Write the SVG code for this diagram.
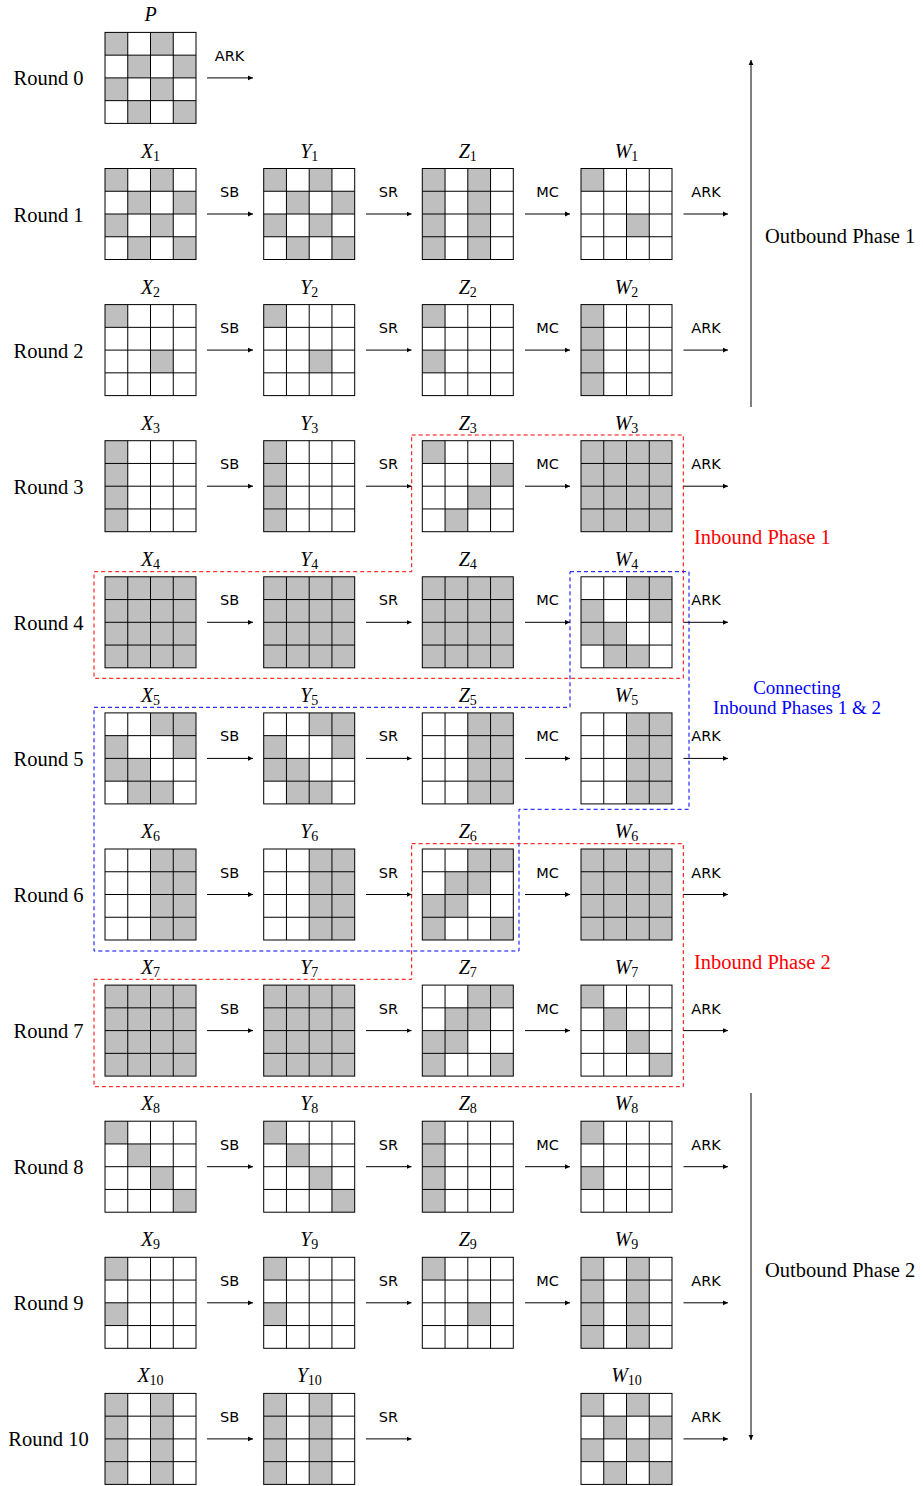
<svg xmlns="http://www.w3.org/2000/svg" xmlns:xlink="http://www.w3.org/1999/xlink" width="923" height="1486" viewBox="0 0 923 1486">
<style>
.bg{fill:#fff}
.sh{fill:#bfbfbf}
.gl{fill:none;stroke:#000;stroke-width:1}
.lbl{font-family:"Liberation Serif",serif;font-style:italic;font-size:20px;text-anchor:middle;fill:#000}
.sub{font-size:14px;font-style:normal}
.rnd{font-family:"Liberation Serif",serif;font-size:20.5px;text-anchor:middle;fill:#000}
.op{font-family:"DejaVu Sans",sans-serif;font-size:14.5px;text-anchor:middle;fill:#000}
.ar{stroke:#000;stroke-width:1;fill:none;marker-end:url(#ah)}
.side{font-family:"Liberation Serif",serif;font-size:20.5px;fill:#000}
.conn{font-family:"Liberation Serif",serif;font-size:19px;fill:#00f;text-anchor:middle}
.red{fill:#f00}
.dr{fill:none;stroke:#f00;stroke-width:1;stroke-dasharray:4 3}
.db{fill:none;stroke:#00f;stroke-width:1;stroke-dasharray:4 3}
</style>
<defs>
<marker id="ah" markerWidth="6" markerHeight="6" refX="5" refY="3" orient="auto" markerUnits="userSpaceOnUse"><path d="M0,0.6 L5,3 L0,5.4 z" fill="#000"/></marker>
<g id="grid" class="gl"><rect width="91" height="91"/><path d="M22.75 0v91M45.5 0v91M68.25 0v91M0 22.75h91M0 45.5h91M0 68.25h91"/></g>
<path id="s_checkA" class="sh" d="M0 0h22.75v22.75h-22.75zM45.5 0h22.75v22.75h-22.75zM22.75 22.75h22.75v22.75h-22.75zM68.25 22.75h22.75v22.75h-22.75zM0 45.5h22.75v22.75h-22.75zM45.5 45.5h22.75v22.75h-22.75zM22.75 68.25h22.75v22.75h-22.75zM68.25 68.25h22.75v22.75h-22.75z"/>
<path id="s_col02" class="sh" d="M0 0h22.75v91h-22.75zM45.5 0h22.75v91h-22.75z"/>
<path id="s_a" class="sh" d="M0 0h22.75v22.75h-22.75zM45.5 45.5h22.75v22.75h-22.75z"/>
<path id="s_b" class="sh" d="M0 0h22.75v22.75h-22.75zM0 45.5h22.75v22.75h-22.75z"/>
<path id="s_col0" class="sh" d="M0 0h22.75v91h-22.75z"/>
<path id="s_z3" class="sh" d="M0 0h22.75v22.75h-22.75zM68.25 22.75h22.75v22.75h-22.75zM45.5 45.5h22.75v22.75h-22.75zM22.75 68.25h22.75v22.75h-22.75z"/>
<path id="s_all" class="sh" d="M0 0h91v91h-91z"/>
<path id="s_w4" class="sh" d="M45.5 0h45.5v22.75h-45.5zM0 22.75h22.75v22.75h-22.75zM68.25 22.75h22.75v22.75h-22.75zM0 45.5h45.5v22.75h-45.5zM22.75 68.25h45.5v22.75h-45.5z"/>
<path id="s_col23" class="sh" d="M45.5 0h45.5v91h-45.5z"/>
<path id="s_z6" class="sh" d="M45.5 0h45.5v22.75h-45.5zM22.75 22.75h45.5v22.75h-45.5zM0 45.5h45.5v22.75h-45.5zM0 68.25h22.75v22.75h-22.75zM68.25 68.25h22.75v22.75h-22.75z"/>
<path id="s_diag" class="sh" d="M0 0h22.75v22.75h-22.75zM22.75 22.75h22.75v22.75h-22.75zM45.5 45.5h22.75v22.75h-22.75zM68.25 68.25h22.75v22.75h-22.75z"/>
</defs>
<rect width="923" height="1486" fill="#fff"/>

<g id="round-labels">
<text class="rnd" x="48.5" y="85.4">Round 0</text>
<text class="rnd" x="48.5" y="221.5">Round 1</text>
<text class="rnd" x="48.5" y="357.6">Round 2</text>
<text class="rnd" x="48.5" y="493.7">Round 3</text>
<text class="rnd" x="48.5" y="629.8">Round 4</text>
<text class="rnd" x="48.5" y="765.9">Round 5</text>
<text class="rnd" x="48.5" y="902">Round 6</text>
<text class="rnd" x="48.5" y="1038.1">Round 7</text>
<text class="rnd" x="48.5" y="1174.2">Round 8</text>
<text class="rnd" x="48.5" y="1310.3">Round 9</text>
<text class="rnd" x="48.5" y="1446.4">Round 10</text>
</g>

<g id="P" transform="translate(105,32.4)"><rect class="bg" width="91" height="91"/><use href="#s_checkA"/><use href="#grid"/><text class="lbl" x="45.5" y="-11">P</text></g>

<g id="X1" transform="translate(105,168.5)"><rect class="bg" width="91" height="91"/><use href="#s_checkA"/><use href="#grid"/><text class="lbl" x="45.5" y="-11">X<tspan class="sub" dy="3">1</tspan></text></g>
<g id="Y1" transform="translate(263.7,168.5)"><rect class="bg" width="91" height="91"/><use href="#s_checkA"/><use href="#grid"/><text class="lbl" x="45.5" y="-11">Y<tspan class="sub" dy="3">1</tspan></text></g>
<g id="Z1" transform="translate(422.3,168.5)"><rect class="bg" width="91" height="91"/><use href="#s_col02"/><use href="#grid"/><text class="lbl" x="45.5" y="-11">Z<tspan class="sub" dy="3">1</tspan></text></g>
<g id="W1" transform="translate(581,168.5)"><rect class="bg" width="91" height="91"/><use href="#s_a"/><use href="#grid"/><text class="lbl" x="45.5" y="-11">W<tspan class="sub" dy="3">1</tspan></text></g>

<g id="X2" transform="translate(105,304.6)"><rect class="bg" width="91" height="91"/><use href="#s_a"/><use href="#grid"/><text class="lbl" x="45.5" y="-11">X<tspan class="sub" dy="3">2</tspan></text></g>
<g id="Y2" transform="translate(263.7,304.6)"><rect class="bg" width="91" height="91"/><use href="#s_a"/><use href="#grid"/><text class="lbl" x="45.5" y="-11">Y<tspan class="sub" dy="3">2</tspan></text></g>
<g id="Z2" transform="translate(422.3,304.6)"><rect class="bg" width="91" height="91"/><use href="#s_b"/><use href="#grid"/><text class="lbl" x="45.5" y="-11">Z<tspan class="sub" dy="3">2</tspan></text></g>
<g id="W2" transform="translate(581,304.6)"><rect class="bg" width="91" height="91"/><use href="#s_col0"/><use href="#grid"/><text class="lbl" x="45.5" y="-11">W<tspan class="sub" dy="3">2</tspan></text></g>

<g id="X3" transform="translate(105,440.7)"><rect class="bg" width="91" height="91"/><use href="#s_col0"/><use href="#grid"/><text class="lbl" x="45.5" y="-11">X<tspan class="sub" dy="3">3</tspan></text></g>
<g id="Y3" transform="translate(263.7,440.7)"><rect class="bg" width="91" height="91"/><use href="#s_col0"/><use href="#grid"/><text class="lbl" x="45.5" y="-11">Y<tspan class="sub" dy="3">3</tspan></text></g>
<g id="Z3" transform="translate(422.3,440.7)"><rect class="bg" width="91" height="91"/><use href="#s_z3"/><use href="#grid"/><text class="lbl" x="45.5" y="-11">Z<tspan class="sub" dy="3">3</tspan></text></g>
<g id="W3" transform="translate(581,440.7)"><rect class="bg" width="91" height="91"/><use href="#s_all"/><use href="#grid"/><text class="lbl" x="45.5" y="-11">W<tspan class="sub" dy="3">3</tspan></text></g>

<g id="X4" transform="translate(105,576.8)"><rect class="bg" width="91" height="91"/><use href="#s_all"/><use href="#grid"/><text class="lbl" x="45.5" y="-11">X<tspan class="sub" dy="3">4</tspan></text></g>
<g id="Y4" transform="translate(263.7,576.8)"><rect class="bg" width="91" height="91"/><use href="#s_all"/><use href="#grid"/><text class="lbl" x="45.5" y="-11">Y<tspan class="sub" dy="3">4</tspan></text></g>
<g id="Z4" transform="translate(422.3,576.8)"><rect class="bg" width="91" height="91"/><use href="#s_all"/><use href="#grid"/><text class="lbl" x="45.5" y="-11">Z<tspan class="sub" dy="3">4</tspan></text></g>
<g id="W4" transform="translate(581,576.8)"><rect class="bg" width="91" height="91"/><use href="#s_w4"/><use href="#grid"/><text class="lbl" x="45.5" y="-11">W<tspan class="sub" dy="3">4</tspan></text></g>

<g id="X5" transform="translate(105,712.9)"><rect class="bg" width="91" height="91"/><use href="#s_w4"/><use href="#grid"/><text class="lbl" x="45.5" y="-11">X<tspan class="sub" dy="3">5</tspan></text></g>
<g id="Y5" transform="translate(263.7,712.9)"><rect class="bg" width="91" height="91"/><use href="#s_w4"/><use href="#grid"/><text class="lbl" x="45.5" y="-11">Y<tspan class="sub" dy="3">5</tspan></text></g>
<g id="Z5" transform="translate(422.3,712.9)"><rect class="bg" width="91" height="91"/><use href="#s_col23"/><use href="#grid"/><text class="lbl" x="45.5" y="-11">Z<tspan class="sub" dy="3">5</tspan></text></g>
<g id="W5" transform="translate(581,712.9)"><rect class="bg" width="91" height="91"/><use href="#s_col23"/><use href="#grid"/><text class="lbl" x="45.5" y="-11">W<tspan class="sub" dy="3">5</tspan></text></g>

<g id="X6" transform="translate(105,849)"><rect class="bg" width="91" height="91"/><use href="#s_col23"/><use href="#grid"/><text class="lbl" x="45.5" y="-11">X<tspan class="sub" dy="3">6</tspan></text></g>
<g id="Y6" transform="translate(263.7,849)"><rect class="bg" width="91" height="91"/><use href="#s_col23"/><use href="#grid"/><text class="lbl" x="45.5" y="-11">Y<tspan class="sub" dy="3">6</tspan></text></g>
<g id="Z6" transform="translate(422.3,849)"><rect class="bg" width="91" height="91"/><use href="#s_z6"/><use href="#grid"/><text class="lbl" x="45.5" y="-11">Z<tspan class="sub" dy="3">6</tspan></text></g>
<g id="W6" transform="translate(581,849)"><rect class="bg" width="91" height="91"/><use href="#s_all"/><use href="#grid"/><text class="lbl" x="45.5" y="-11">W<tspan class="sub" dy="3">6</tspan></text></g>

<g id="X7" transform="translate(105,985.1)"><rect class="bg" width="91" height="91"/><use href="#s_all"/><use href="#grid"/><text class="lbl" x="45.5" y="-11">X<tspan class="sub" dy="3">7</tspan></text></g>
<g id="Y7" transform="translate(263.7,985.1)"><rect class="bg" width="91" height="91"/><use href="#s_all"/><use href="#grid"/><text class="lbl" x="45.5" y="-11">Y<tspan class="sub" dy="3">7</tspan></text></g>
<g id="Z7" transform="translate(422.3,985.1)"><rect class="bg" width="91" height="91"/><use href="#s_z6"/><use href="#grid"/><text class="lbl" x="45.5" y="-11">Z<tspan class="sub" dy="3">7</tspan></text></g>
<g id="W7" transform="translate(581,985.1)"><rect class="bg" width="91" height="91"/><use href="#s_diag"/><use href="#grid"/><text class="lbl" x="45.5" y="-11">W<tspan class="sub" dy="3">7</tspan></text></g>

<g id="X8" transform="translate(105,1121.2)"><rect class="bg" width="91" height="91"/><use href="#s_diag"/><use href="#grid"/><text class="lbl" x="45.5" y="-11">X<tspan class="sub" dy="3">8</tspan></text></g>
<g id="Y8" transform="translate(263.7,1121.2)"><rect class="bg" width="91" height="91"/><use href="#s_diag"/><use href="#grid"/><text class="lbl" x="45.5" y="-11">Y<tspan class="sub" dy="3">8</tspan></text></g>
<g id="Z8" transform="translate(422.3,1121.2)"><rect class="bg" width="91" height="91"/><use href="#s_col0"/><use href="#grid"/><text class="lbl" x="45.5" y="-11">Z<tspan class="sub" dy="3">8</tspan></text></g>
<g id="W8" transform="translate(581,1121.2)"><rect class="bg" width="91" height="91"/><use href="#s_b"/><use href="#grid"/><text class="lbl" x="45.5" y="-11">W<tspan class="sub" dy="3">8</tspan></text></g>

<g id="X9" transform="translate(105,1257.3)"><rect class="bg" width="91" height="91"/><use href="#s_b"/><use href="#grid"/><text class="lbl" x="45.5" y="-11">X<tspan class="sub" dy="3">9</tspan></text></g>
<g id="Y9" transform="translate(263.7,1257.3)"><rect class="bg" width="91" height="91"/><use href="#s_b"/><use href="#grid"/><text class="lbl" x="45.5" y="-11">Y<tspan class="sub" dy="3">9</tspan></text></g>
<g id="Z9" transform="translate(422.3,1257.3)"><rect class="bg" width="91" height="91"/><use href="#s_a"/><use href="#grid"/><text class="lbl" x="45.5" y="-11">Z<tspan class="sub" dy="3">9</tspan></text></g>
<g id="W9" transform="translate(581,1257.3)"><rect class="bg" width="91" height="91"/><use href="#s_col02"/><use href="#grid"/><text class="lbl" x="45.5" y="-11">W<tspan class="sub" dy="3">9</tspan></text></g>

<g id="X10" transform="translate(105,1393.4)"><rect class="bg" width="91" height="91"/><use href="#s_col02"/><use href="#grid"/><text class="lbl" x="45.5" y="-11">X<tspan class="sub" dy="3">10</tspan></text></g>
<g id="Y10" transform="translate(263.7,1393.4)"><rect class="bg" width="91" height="91"/><use href="#s_col02"/><use href="#grid"/><text class="lbl" x="45.5" y="-11">Y<tspan class="sub" dy="3">10</tspan></text></g>
<g id="W10" transform="translate(581,1393.4)"><rect class="bg" width="91" height="91"/><use href="#s_checkA"/><use href="#grid"/><text class="lbl" x="45.5" y="-11">W<tspan class="sub" dy="3">10</tspan></text></g>

<g id="phase-boxes">
<path id="inbound1-box" class="dr" d="M411.7 435H683.3V678.3H94V571.7H411.7Z"/>
<path id="connecting-box" class="db" d="M570 571.7H689V809.3H519V951H94V707.3H570Z"/>
<path id="inbound2-box" class="dr" d="M411.7 843.7H683.3V1086.7H94V979.3H411.7Z"/>
<text class="side red" x="694" y="544">Inbound Phase 1</text>
<text class="side red" x="694" y="969">Inbound Phase 2</text>
<text class="conn" x="797" y="694">Connecting</text>
<text class="conn" x="797" y="714">Inbound Phases 1 &amp; 2</text>
<text class="side" x="765" y="243">Outbound Phase 1</text>
<text class="side" x="765" y="1276.5">Outbound Phase 2</text>
</g>

<g id="connectors">
<path class="ar" d="M751 407V60"/>
<path class="ar" d="M751 1093V1440"/>
<path class="ar" d="M207 77.9H253"/>
<text class="op" x="229.5" y="60.9">ARK</text>

<path class="ar" d="M207 214H253"/><path class="ar" d="M366 214H411.5"/><path class="ar" d="M525 214H570"/><path class="ar" d="M683.5 214H728"/>
<text class="op" x="229.5" y="197">SB</text><text class="op" x="388.5" y="197">SR</text><text class="op" x="547.5" y="197">MC</text><text class="op" x="706" y="197">ARK</text>

<path class="ar" d="M207 350.1H253"/><path class="ar" d="M366 350.1H411.5"/><path class="ar" d="M525 350.1H570"/><path class="ar" d="M683.5 350.1H728"/>
<text class="op" x="229.5" y="333.1">SB</text><text class="op" x="388.5" y="333.1">SR</text><text class="op" x="547.5" y="333.1">MC</text><text class="op" x="706" y="333.1">ARK</text>

<path class="ar" d="M207 486.2H253"/><path class="ar" d="M366 486.2H411.5"/><path class="ar" d="M525 486.2H570"/><path class="ar" d="M683.5 486.2H728"/>
<text class="op" x="229.5" y="469.2">SB</text><text class="op" x="388.5" y="469.2">SR</text><text class="op" x="547.5" y="469.2">MC</text><text class="op" x="706" y="469.2">ARK</text>

<path class="ar" d="M207 622.3H253"/><path class="ar" d="M366 622.3H411.5"/><path class="ar" d="M525 622.3H570"/><path class="ar" d="M683.5 622.3H728"/>
<text class="op" x="229.5" y="605.3">SB</text><text class="op" x="388.5" y="605.3">SR</text><text class="op" x="547.5" y="605.3">MC</text><text class="op" x="706" y="605.3">ARK</text>

<path class="ar" d="M207 758.4H253"/><path class="ar" d="M366 758.4H411.5"/><path class="ar" d="M525 758.4H570"/><path class="ar" d="M683.5 758.4H728"/>
<text class="op" x="229.5" y="741.4">SB</text><text class="op" x="388.5" y="741.4">SR</text><text class="op" x="547.5" y="741.4">MC</text><text class="op" x="706" y="741.4">ARK</text>

<path class="ar" d="M207 894.5H253"/><path class="ar" d="M366 894.5H411.5"/><path class="ar" d="M525 894.5H570"/><path class="ar" d="M683.5 894.5H728"/>
<text class="op" x="229.5" y="877.5">SB</text><text class="op" x="388.5" y="877.5">SR</text><text class="op" x="547.5" y="877.5">MC</text><text class="op" x="706" y="877.5">ARK</text>

<path class="ar" d="M207 1030.6H253"/><path class="ar" d="M366 1030.6H411.5"/><path class="ar" d="M525 1030.6H570"/><path class="ar" d="M683.5 1030.6H728"/>
<text class="op" x="229.5" y="1013.6">SB</text><text class="op" x="388.5" y="1013.6">SR</text><text class="op" x="547.5" y="1013.6">MC</text><text class="op" x="706" y="1013.6">ARK</text>

<path class="ar" d="M207 1166.7H253"/><path class="ar" d="M366 1166.7H411.5"/><path class="ar" d="M525 1166.7H570"/><path class="ar" d="M683.5 1166.7H728"/>
<text class="op" x="229.5" y="1149.7">SB</text><text class="op" x="388.5" y="1149.7">SR</text><text class="op" x="547.5" y="1149.7">MC</text><text class="op" x="706" y="1149.7">ARK</text>

<path class="ar" d="M207 1302.8H253"/><path class="ar" d="M366 1302.8H411.5"/><path class="ar" d="M525 1302.8H570"/><path class="ar" d="M683.5 1302.8H728"/>
<text class="op" x="229.5" y="1285.8">SB</text><text class="op" x="388.5" y="1285.8">SR</text><text class="op" x="547.5" y="1285.8">MC</text><text class="op" x="706" y="1285.8">ARK</text>

<path class="ar" d="M207 1438.9H253"/><path class="ar" d="M366 1438.9H411.5"/><path class="ar" d="M683.5 1438.9H728"/>
<text class="op" x="229.5" y="1421.9">SB</text><text class="op" x="388.5" y="1421.9">SR</text><text class="op" x="706" y="1421.9">ARK</text>
</g>
</svg>
